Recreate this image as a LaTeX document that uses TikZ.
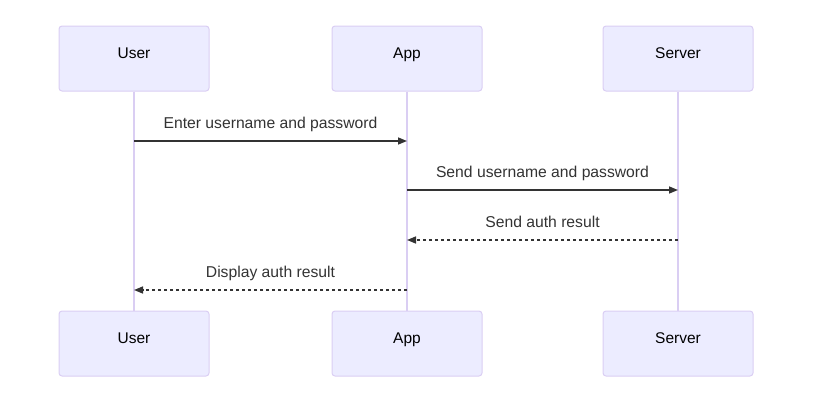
\documentclass[tikz,border=0pt]{standalone}
\usepackage{fontspec}
\setmainfont{Liberation Sans}
\usetikzlibrary{arrows.meta}
\definecolor{actfill}{HTML}{ECECFF}
\definecolor{actline}{HTML}{DACEF3}
\definecolor{txt}{HTML}{333333}
\tikzset{
  actor/.style={draw=actline, fill=actfill, line width=1pt, rounded corners=3pt,
    minimum width=150pt, minimum height=65pt, inner sep=0pt, text=black,
    text height=6pt, text depth=7pt,
    font=\fontsize{15.5}{18}\selectfont},
  life/.style={draw=actline, line width=1.3pt},
  msg/.style={draw=txt, line width=1.5pt, -{Triangle[length=9pt,width=7pt]}},
  reply/.style={msg, dash pattern=on 3pt off 3pt},
  lbl/.style={text=txt, font=\fontsize{15.7}{18}\selectfont, inner sep=0pt, anchor=base}
}
\begin{document}
\begin{tikzpicture}[x=1pt,y=-1pt]
\useasboundingbox (0,0) rectangle (822,408);
% actors top
\node[actor] (ut) at (134,58.5) {User};
\node[actor] (at) at (407,58.5) {App};
\node[actor] (st) at (678,58.5) {Server};
% actors bottom
\node[actor] (ub) at (134,343.5) {User};
\node[actor] (ab) at (407,343.5) {App};
\node[actor] (sb) at (678,343.5) {Server};
% lifelines
\draw[life] (ut.south) -- (ub.north);
\draw[life] (at.south) -- (ab.north);
\draw[life] (st.south) -- (sb.north);
% message anchors
\coordinate (m1s) at (134,141); \coordinate (m1e) at (407,141);
\coordinate (m2s) at (407,190); \coordinate (m2e) at (678,190);
\coordinate (m3s) at (678,240); \coordinate (m3e) at (407,240);
\coordinate (m4s) at (407,290); \coordinate (m4e) at (134,290);
\draw[msg] (m1s) -- (m1e);
\draw[msg] (m2s) -- (m2e);
\draw[reply] (m3s) -- (m3e);
\draw[reply] (m4s) -- (m4e);
% labels
\node[lbl] (l1) at (270.5,128) {Enter username and password};
\node[lbl] (l2) at (542.5,177) {Send username and password};
\node[lbl] (l3) at (542.5,227) {Send auth result};
\node[lbl] (l4) at (270.5,277) {Display auth result};
\end{tikzpicture}
\end{document}
